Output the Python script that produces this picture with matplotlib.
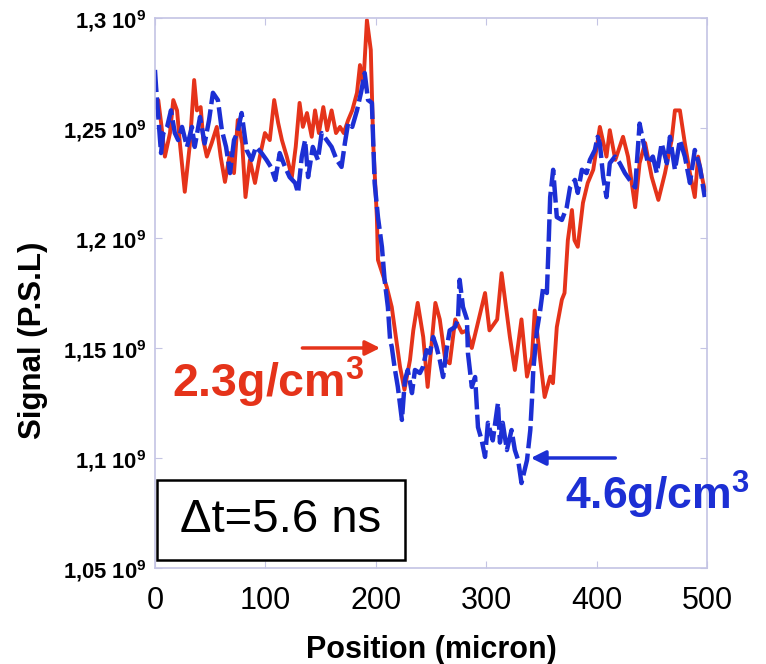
import matplotlib
matplotlib.use("Agg")
import matplotlib.pyplot as plt
from matplotlib.patches import Rectangle

plt.rcParams['font.family'] = ['Liberation Sans', 'DejaVu Sans']
plt.rcParams['mathtext.fontset'] = 'custom'
plt.rcParams['mathtext.rm'] = 'Liberation Sans:bold'
plt.rcParams['mathtext.it'] = 'Liberation Sans:bold:italic'
plt.rcParams['mathtext.bf'] = 'Liberation Sans:bold'

# 2.3 g/cm3 shot (red, solid) -- signal in units of 1e9 P.S.L
red_pos = [0, 3, 6, 9, 13.6, 16.6, 20, 22.6, 27, 31.7, 35.5, 38, 41.4, 43.8, 47, 51.3, 56, 59.5,
           63.4, 68, 71.6, 75, 79, 82, 86, 90.6, 95, 99.6, 104, 108, 111.6, 115, 119.4, 124,
           127.5, 131, 134, 137.7, 142, 145, 148.5, 152.5, 156, 160, 164, 167.6, 171, 175,
           178.7, 183, 185.7, 188.6, 192, 195.5, 197.7, 201, 202, 210, 214.5, 217, 222, 226,
           231, 234, 238, 243, 247, 254, 258, 263, 267, 272, 278, 282.6, 287, 291.6, 299, 303,
           310, 314, 321.5, 326, 332, 337, 341.5, 344, 349, 353, 358, 360.5, 364, 368.6, 371,
           374, 377.7, 380, 383, 387.7, 392, 397, 403, 409, 412, 417, 424, 428.5, 435, 439,
           444, 450, 456, 462, 468, 471, 475.5, 480, 484.6, 489, 492, 495.5, 498]
red_sig = [1.2595, 1.2627, 1.2505, 1.237, 1.2477, 1.2627, 1.258, 1.243, 1.221, 1.243, 1.2718,
           1.258, 1.2595, 1.2445, 1.237, 1.243, 1.2505, 1.237, 1.2255, 1.2386, 1.2295, 1.2536,
           1.243, 1.2186, 1.2355, 1.225, 1.237, 1.2477, 1.2445, 1.2627, 1.2523, 1.2445, 1.237,
           1.2277, 1.2414, 1.2614, 1.2505, 1.2568, 1.246, 1.258, 1.2477, 1.2595, 1.249, 1.258,
           1.2477, 1.2505, 1.2477, 1.2536, 1.258, 1.266, 1.2786, 1.2686, 1.299, 1.2855, 1.243,
           1.2095, 1.19, 1.1777, 1.1686, 1.1595, 1.1414, 1.131, 1.1445, 1.158, 1.1705, 1.155,
           1.1323, 1.1705, 1.163, 1.1445, 1.143, 1.163, 1.157, 1.158, 1.150, 1.1595, 1.175,
           1.158, 1.163, 1.184, 1.155, 1.14, 1.163, 1.137, 1.146, 1.167, 1.1445, 1.1277, 1.137,
           1.134, 1.1595, 1.172, 1.175, 1.199, 1.2127, 1.199, 1.196, 1.216, 1.225, 1.231,
           1.2505, 1.237, 1.249, 1.2355, 1.246, 1.237, 1.214, 1.234, 1.2432, 1.2277, 1.2173,
           1.2295, 1.2445, 1.258, 1.258, 1.243, 1.2295, 1.2186, 1.237, 1.2277, 1.2218]

# 4.6 g/cm3 shot (blue, dashed)
blue_pos = [0, 1, 3, 5.5, 7.6, 11, 14.5, 18, 21, 24.5, 29, 33.5, 36, 40.8, 45, 49, 52.5, 57,
            60.6, 64.4, 68, 71.6, 74.5, 78.5, 83, 87.6, 91.5, 96.6, 101, 105, 109, 113, 117.8,
            122, 127, 129.6, 133, 136, 138.7, 143, 147.6, 151, 155.6, 160, 164.6, 169, 172,
            175, 178.7, 183, 186.6, 190, 193, 196.5, 197.7, 199, 202, 205.6, 208, 211, 213,
            214.5, 217, 220, 223.7, 226.4, 229, 232.8, 235.5, 240, 242.8, 246, 249, 252, 255,
            258, 261, 264.5, 267, 271.7, 274.5, 276, 279, 282.6, 283.5, 287, 290, 292.6, 296,
            299, 301.6, 306, 310.7, 312.5, 315, 318.8, 323, 326, 329, 332, 337, 340, 341.5,
            342.7, 346, 349, 351.7, 355, 356.3, 358, 360.7, 364, 368.6, 373, 376, 380.4, 383,
            386.7, 391, 394, 398.5, 401, 403, 406, 409, 412, 416.7, 421, 425.7, 430, 435, 439,
            442, 446.5, 451, 454.6, 459, 463.7, 466.5, 471, 475.5, 480, 484.6, 489, 493.6, 498]
blue_sig = [1.2764, 1.2686, 1.255, 1.2386, 1.2477, 1.2505, 1.258, 1.2477, 1.2445, 1.2505,
            1.2414, 1.2505, 1.2414, 1.255, 1.243, 1.2536, 1.266, 1.2627, 1.249, 1.2414, 1.2295,
            1.2445, 1.2477, 1.2568, 1.24, 1.2355, 1.2414, 1.2386, 1.2355, 1.2323, 1.2264,
            1.2386, 1.2323, 1.2277, 1.225, 1.2205, 1.237, 1.2445, 1.2277, 1.2414, 1.2355,
            1.2477, 1.2445, 1.2414, 1.2355, 1.2323, 1.243, 1.2523, 1.2505, 1.258, 1.266, 1.275,
            1.2627, 1.2614, 1.2445, 1.225, 1.2095, 1.1959, 1.181, 1.1686, 1.1536, 1.1505,
            1.1414, 1.1323, 1.1173, 1.1355, 1.14, 1.1295, 1.14, 1.1386, 1.1414, 1.149, 1.1477,
            1.155, 1.1505, 1.1445, 1.1368, 1.1505, 1.158, 1.1595, 1.163, 1.181, 1.1686, 1.163,
            1.1477, 1.1323, 1.1368, 1.114, 1.108, 1.1005, 1.116, 1.108, 1.125, 1.107, 1.116,
            1.1036, 1.1127, 1.1036, 1.099, 1.0886, 1.099, 1.1127, 1.1264, 1.14, 1.158, 1.1673,
            1.1777, 1.175, 1.193, 1.2186, 1.231, 1.2095, 1.2082, 1.214, 1.223, 1.2264, 1.2205,
            1.231, 1.2295, 1.2355, 1.24, 1.246, 1.243, 1.2277, 1.2186, 1.234, 1.237, 1.234,
            1.2295, 1.2264, 1.223, 1.252, 1.2445, 1.234, 1.237, 1.2295, 1.243, 1.234, 1.246,
            1.231, 1.2445, 1.237, 1.225, 1.24, 1.2323, 1.2186]

x_ticks = [0, 100, 200, 300, 400, 500]
y_ticks = [1.05, 1.1, 1.15, 1.2, 1.25, 1.3]
y_labels = ['1,05 10$^9$', '1,1 10$^9$', '1,15 10$^9$', '1,2 10$^9$', '1,25 10$^9$', '1,3 10$^9$']

red = '#e5331a'
blue = '#1c2fd4'
frame = '#c4c4e4'

fig = plt.figure(figsize=(7.66, 6.64), dpi=100)
ax = fig.add_axes([0.2023, 0.1446, 0.7206, 0.8283])

ax.plot(red_pos, red_sig, color=red, linewidth=2.8, solid_joinstyle='round')
ax.plot(blue_pos, blue_sig, color=blue, linewidth=3.2, linestyle=(0, (5, 1.2)))

ax.set_xlim(0, 500)
ax.set_ylim(1.05, 1.3)
ax.set_xticks(x_ticks)
ax.set_xticklabels([str(t) for t in x_ticks], fontsize=22)
ax.set_yticks(y_ticks)
ax.set_yticklabels(y_labels, fontsize=15.8, fontweight='bold')
ax.tick_params(axis='both', direction='in', length=5, color=frame, top=True, right=True)
ax.tick_params(axis='x', pad=13)
ax.tick_params(axis='y', pad=6)
for s in ax.spines.values():
    s.set_color(frame)
    s.set_linewidth(1.2)

ax.set_xlabel('Position (micron)', fontsize=22, fontweight='bold', labelpad=14)
ax.set_ylabel('Signal (P.S.L)', fontsize=22.5, fontweight='bold')
ax.yaxis.set_label_coords(-0.193, 0.414)

# density arrows and labels
ax.annotate('', xy=(206.5, 1.15), xytext=(131, 1.15),
            arrowprops=dict(arrowstyle='-|>', color=red, lw=2.5, mutation_scale=22))
ax.text(15.4, 1.1277, '2.3g/cm$^3$', color=red, fontsize=33.5, fontweight='bold',
        ha='left', va='baseline')
ax.annotate('', xy=(338, 1.1), xytext=(419.5, 1.1),
            arrowprops=dict(arrowstyle='-|>', color=blue, lw=2.5, mutation_scale=22))
ax.text(371.4, 1.0764, '4.6g/cm$^3$', color=blue, fontsize=32, fontweight='bold',
        ha='left', va='baseline', clip_on=False)

# time stamp box
ax.add_patch(Rectangle((0.004, 0.0145), 0.449, 0.146, transform=ax.transAxes,
                       facecolor='white', edgecolor='black', linewidth=1.8, zorder=5))
ax.text(0.2285, 0.0875, '\u0394t=5.6 ns', transform=ax.transAxes, fontsize=34,
        ha='center', va='center', zorder=6)

plt.savefig('out.png', dpi=100)
